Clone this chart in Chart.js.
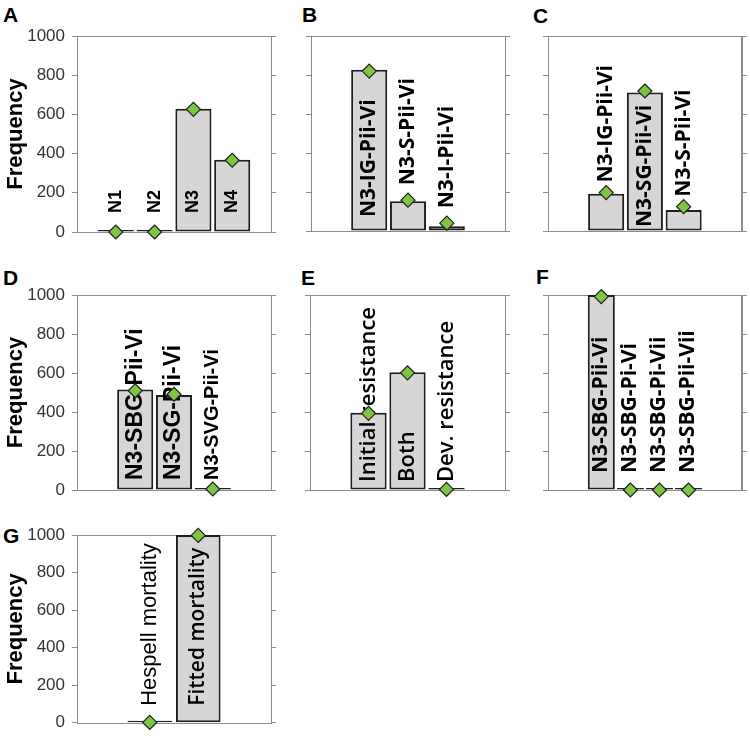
<!DOCTYPE html>
<html><head><meta charset="utf-8">
<script src="https://cdn.jsdelivr.net/npm/chart.js@4"></script>
<style>
body{margin:0;background:#fff;width:750px;height:740px;position:relative;overflow:hidden}
canvas{position:absolute;left:0;top:0}
.lt{position:absolute;font:bold 21px "Liberation Sans",Arial,sans-serif;line-height:1;color:#000}
</style></head><body>
<div class="lt" style="left:3px;top:4px">A</div>
<div class="lt" style="left:302px;top:4px">B</div>
<div class="lt" style="left:533px;top:5px">C</div>
<div class="lt" style="left:3px;top:267px">D</div>
<div class="lt" style="left:301px;top:267px">E</div>
<div class="lt" style="left:536px;top:266px">F</div>
<div class="lt" style="left:3px;top:525px">G</div>
<script>
const yTicks = [0, 200, 400, 600, 800, 1000];

const labelsA = ['N1', 'N2', 'N3', 'N4'];
const barsA = [0, 0, 629, 369];
const diamondsA = [0, 0, 626, 366];

const labelsB = ['N3-IG-Pii-Vi', 'N3-S-Pii-Vi', 'N3-I-Pii-Vi'];
const barsB = [827, 152, 25];
const diamondsB = [820, 158, 40];

const labelsC = ['N3-IG-Pii-Vi', 'N3-SG-Pii-Vi', 'N3-S-Pii-Vi'];
const barsC = [191, 710, 108];
const diamondsC = [197, 718, 125];

const labelsD = ['N3-SBG-Pii-Vi', 'N3-SG-Pii-Vi', 'N3-SVG-Pii-Vi'];
const barsD = [516, 487, 0];
const diamondsD = [509, 491, 5];

const labelsE = ['Initial resistance', 'Both', 'Dev. resistance'];
const barsE = [396, 604, 0];
const diamondsE = [393, 601, 3];

const labelsF = ['N3-SBG-Pii-Vi', 'N3-SBG-Pi-Vi', 'N3-SBG-Pi-Vii', 'N3-SBG-Pii-Vii'];
const barsF = [1000, 0, 0, 0];
const diamondsF = [992, 0, 0, 0];

const labelsG = ['Hespell mortality', 'Fitted mortality'];
const barsG = [0, 1000];
const diamondsG = [2, 998];

const GRID = '#8c8c8c';
const DIAMOND_R = 7;
const ARIAL = '"Liberation Sans", Arial, sans-serif';
const OPEN = '"Open Sans", sans-serif';

const boxPlugin = {
  id: 'box',
  beforeDatasetsDraw(chart) {
    const a = chart.chartArea, ctx = chart.ctx;
    ctx.save();
    ctx.strokeStyle = GRID; ctx.lineWidth = 1;
    ctx.strokeRect(Math.round(a.left) + 0.5, Math.round(a.top) + 0.5, Math.round(a.right - a.left), Math.round(a.bottom - a.top));
    ctx.restore();
  }
};

const labelPlugin = {
  id: 'barLabels',
  afterDatasetDraw(chart, args, opts) {
    if (args.index !== 0) return;
    const ctx = chart.ctx;
    const base = chart.scales.y.getPixelForValue(0);
    const bars = args.meta.data;
    const dia = chart.getDatasetMeta(1).data;
    const vals = chart.data.datasets[0].data;
    ctx.save();
    ctx.fillStyle = '#000';
    ctx.textBaseline = 'middle';
    ctx.textAlign = 'left';
    bars.forEach((bar, i) => {
      const v = vals[i].y;
      const h = base - chart.scales.y.getPixelForValue(v);
      let start;
      if (v === 0 || h > opts.minInside) start = base - opts.gap;
      else start = dia[i].y - DIAMOND_R - opts.above;
      ctx.font = opts.fonts[i];
      ctx.save();
      ctx.translate(bar.x, start);
      ctx.rotate(-Math.PI / 2);
      ctx.fillText(chart.data.labels[i], 0, 0);
      ctx.restore();
    });
    ctx.restore();
  }
};

function makePanel(p) {
  const cv = document.createElement('canvas');
  cv.width = 750; cv.height = 740;
  document.body.appendChild(cv);
  const [l, t, r, b] = p.box;
  const leftW = p.showY ? l : 10;
  const rightW = 5;
  const xs = p.labels.map((_, i) => i + p.start);
  const fonts = p.fonts || p.labels.map(() => p.font);
  new Chart(cv, {
    type: 'bar',
    data: {
      labels: p.labels,
      datasets: [
        {
          type: 'bar', order: 2,
          data: p.bars.map((v, i) => ({ x: xs[i], y: v })),
          backgroundColor: '#d6d6d6', borderColor: '#1e1e1e', borderWidth: 2,
          borderSkipped: false, minBarLength: 2,
          barPercentage: p.barPct, categoryPercentage: 1
        },
        {
          type: 'line', order: 1, showLine: false, clip: false,
          data: p.diamonds.map((v, i) => ({ x: xs[i], y: v })),
          pointStyle: 'rectRot', pointRadius: DIAMOND_R,
          pointBackgroundColor: '#7ec544', pointBorderColor: '#1e1e1e', pointBorderWidth: 1.2
        }
      ]
    },
    options: {
      responsive: false, animation: false, events: [],
      layout: { padding: { left: l - leftW, right: 750 - r - rightW, top: t, bottom: 740 - b } },
      plugins: {
        legend: { display: false }, tooltip: { enabled: false },
        barLabels: { fonts: fonts, gap: p.gap, minInside: 50, above: p.above }
      },
      scales: {
        x: { type: 'linear', min: 0, max: p.xMax, display: false },
        y: {
          position: 'left', min: 0, max: 1000,
          afterBuildTicks: s => { s.ticks = yTicks.map(v => ({ value: v })); },
          afterFit: s => { s.width = leftW; },
          ticks: { display: !!p.showY, color: '#333', padding: 7,
                   callback: v => String(v),
                   font: { family: ARIAL, size: 17 } },
          grid: { drawOnChartArea: false, drawTicks: true, tickLength: 5, color: GRID },
          border: { display: true, color: GRID },
          title: { display: !!p.showY, text: 'Frequency', color: '#000',
                   font: { family: ARIAL, size: 22, weight: 'bold' },
                   padding: { top: 3, bottom: 0 } }
        },
        y2: {
          position: 'right', min: 0, max: 1000,
          afterBuildTicks: s => { s.ticks = yTicks.map(v => ({ value: v })); },
          afterFit: s => { s.width = rightW; },
          ticks: { display: false },
          grid: { drawOnChartArea: false, drawTicks: true, tickLength: 5, color: GRID },
          border: { display: true, color: GRID }
        }
      }
    },
    plugins: [boxPlugin, labelPlugin]
  });
}

const openB = 'bold 21px ' + OPEN;
makePanel({ box: [77, 36, 271, 232], labels: labelsA, bars: barsA, diamonds: diamondsA, start: 0.5, xMax: 4, barPct: 0.93, showY: true, font: 'bold 18px ' + ARIAL, gap: 19, above: 5 });
makePanel({ box: [311, 36, 505, 231], labels: labelsB, bars: barsB, diamonds: diamondsB, start: 1, xMax: 4, barPct: 0.93, font: openB, gap: 14, above: 8 });
makePanel({ box: [548, 36, 743, 231], labels: labelsC, bars: barsC, diamonds: diamondsC, start: 1, xMax: 4, barPct: 0.93, font: openB, gap: 4, above: 3 });
makePanel({ box: [77, 295, 271, 490], labels: labelsD, bars: barsD, diamonds: diamondsD, start: 1, xMax: 4, barPct: 0.93, showY: true, fonts: ['bold 23px ' + ARIAL, 'bold 23px ' + ARIAL, 'bold 20px ' + ARIAL], gap: 10, above: 5 });
makePanel({ box: [310, 295, 505, 490], labels: labelsE, bars: barsE, diamonds: diamondsE, start: 1, xMax: 4, barPct: 0.93, font: '600 22px ' + OPEN, gap: 8, above: 5 });
makePanel({ box: [548, 295, 743, 490], labels: labelsF, bars: barsF, diamonds: diamondsF, start: 1, xMax: 5, barPct: 0.93, font: openB, gap: 17, above: 5 });
makePanel({ box: [77, 535, 271, 730], labels: labelsG, bars: barsG, diamonds: diamondsG, start: 1, xMax: 3, barPct: 0.92, showY: true, fonts: ['22px ' + ARIAL, '600 21px ' + OPEN], gap: 17, above: 5 });
</script>
</body></html>
